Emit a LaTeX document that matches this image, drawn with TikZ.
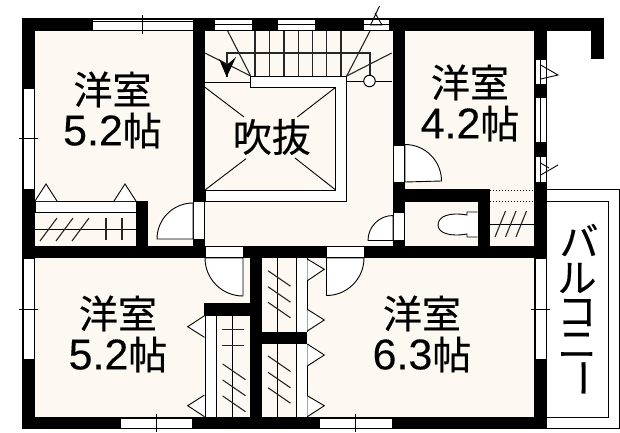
\documentclass[tikz,border=0pt]{standalone}
\usepackage{fontspec}
\setmainfont[FakeBold=0.35]{Noto Sans CJK JP}
\newfontfamily\digits[FakeBold=0.2]{Liberation Sans}
\newcommand{\dg}[1]{{\digits\fontsize{43}{41}\selectfont #1}}
\tikzset{
  wall/.style={fill=black,draw=none},
  win/.style={fill=white,draw=black,line width=0.8pt},
  thin/.style={draw=black,line width=0.9pt},
  hang/.style={draw=black!85,line width=1.1pt},
  doorarc/.style={fill=white,draw=black,line width=0.9pt},
  label/.style={font=\fontsize{39}{41}\selectfont,align=center,inner sep=0pt,text=black},
  kata/.style={font=\fontsize{39}{39}\selectfont,inner sep=0pt,text=black},
}
\definecolor{cream}{HTML}{FDF8F1}
\begin{document}
\begin{tikzpicture}[x=1pt,y=-1pt]
\path[use as bounding box,fill=white] (0,0) rectangle (620,432);
% balcony
\draw[thin] (547,189) -- (619.5,189) -- (619.5,428.5) -- (547,428.5);
\draw[thin] (547,201) -- (608.5,201) -- (608.5,417) -- (547,417);
% floor
\fill[cream] (22,18) rectangle (547,429);
% white openings band in hall
\fill[white,draw=black,line width=.9pt] (250.7,76) -- (346.7,76) -- (346.7,201.3) -- (205,201.3) -- (205,190) -- (335.7,190) -- (335.7,87.3) -- (250.7,87.3) -- cycle;
% void
\draw[thin] (205,82.3) -- (250.7,82.3);
\draw[thin] (205,87.3) -- (244,117);
\draw[thin] (335.7,87.3) -- (297.3,117);
\draw[thin] (205,190) -- (246,158.7);
\draw[thin] (335.7,190) -- (295,158);
% stairs
\foreach \x in {255,269.3,284,298.3,312.7,326.7,341} \draw[hang] (\x,31) -- (\x,76);
\draw[hang] (227,77) -- (227,53) -- (370,53) -- (370,75);
\draw[hang] (250.7,76) -- (227.7,31);
\draw[hang] (250.7,76) -- (205,53);
\draw[hang] (346.7,76) -- (370,31);
\draw[hang] (346.7,76) -- (391.7,53);
\draw[thin] (346.7,81) -- (392,81);
\node[circle,draw=black,fill=white,line width=1pt,minimum size=11.5pt,inner sep=0pt] (post) at (369.5,81) {};
\fill[black] (226.7,77) -- (219,59) -- (226.7,65) -- (236,57) -- cycle;
% walls
\fill[wall] (22,18) rectangle (604,31);
\fill[wall] (591,18) rectangle (604,59);
\fill[wall] (22,18) rectangle (35,429);
\fill[wall] (22,417) rectangle (547,429);
\fill[wall] (534,18) rectangle (547,429);
\fill[wall] (22,246) rectangle (547,258);
\fill[wall] (193,18) rectangle (205,258);
\fill[wall] (393,18) rectangle (405,258);
\fill[wall] (393,189) rectangle (490,202);
\fill[wall] (477.7,189) rectangle (490,258);
\fill[wall] (136,201) rectangle (148,258);
\fill[wall] (250,246) rectangle (262,429);
\fill[wall] (204,303) rectangle (262,316);
\fill[wall] (250,332) rectangle (307,344);
% windows, left
\draw[win] (23.5,88) rectangle (34,189);
\draw[thin] (19,138.3) -- (38,138.3);
\draw[win] (23.5,258) rectangle (34,359);
\draw[thin] (19,309) -- (38,309);
% top
\draw[win] (92,19.5) rectangle (193,30);
\draw[thin] (92,21) -- (193,21);
\draw[thin] (142.3,15) -- (142.3,34);
\foreach \a/\b in {214/252,277/315,363/389}{
  \draw[win] (\a,19.5) rectangle (\b,30);
  \draw[draw=black,line width=1.3pt] (\a,24.7) -- (\b,24.7);
}
\draw[thin] (379.5,6) -- (370.5,25) -- (382,25) -- (375,13);
% bottom
\draw[win] (120,418) rectangle (192.7,428.5);
\draw[thin] (156.7,414) -- (156.7,432);
\draw[win] (319.3,418) rectangle (392,428.5);
\draw[thin] (355.7,414) -- (355.7,432);
% right windows
\draw[win] (535,59) rectangle (546,84);
\draw[win] (535,97) rectangle (546,142);
\draw[win] (535,156) rectangle (546,182);
\draw[draw=black,line width=1.2pt] (540.7,59) -- (540.7,84) (540.7,97) -- (540.7,142) (540.7,156) -- (540.7,182);
\draw[thin] (540.7,65) -- (558,75) -- (540.7,79);
\draw[thin] (540.7,163) -- (549,168) (540.7,175) -- (558,165);
\draw[win] (535,258) rectangle (546,359);
\draw[thin] (531,309) -- (550,309);
% door openings
\draw[win] (193.5,201) rectangle (204.5,239);
\draw[win] (393.5,145) rectangle (404.5,182);
\draw[win] (393.5,212) rectangle (404.5,240);
\draw[win] (205,246.5) rectangle (243,257.5);
\draw[win] (326.5,246.5) rectangle (364,257.5);
% door leaves
\draw[doorarc] (193,239) -- (157,239) arc[start angle=180,end angle=270,radius=36] -- cycle;
\draw[doorarc] (405,182) -- (405,144.5) arc[start angle=270,end angle=360,radius=36.5] -- cycle;
\draw[doorarc] (393,240.5) -- (368,240.5) arc[start angle=180,end angle=270,radius=25] -- cycle;
\draw[doorarc] (243,258) -- (205,258) arc[start angle=180,end angle=90,radius=38] -- cycle;
\draw[doorarc] (326.5,258) -- (364,258) arc[start angle=0,end angle=90,radius=37.5] -- cycle;
% closet room 1
\draw[win] (35,201) rectangle (136,212);
\draw[thin] (35,229) -- (136,229);
\foreach \a in {40,56,72} \draw[hang] (\a,241) -- (\a+17,218);
\foreach \a in {106,122} \draw[hang] (\a,218) -- (\a,240);
\draw[doorarc] (35,201) -- (46,184) -- (57,201);
\draw[doorarc] (114,201) -- (125,184) -- (136,201);
% closet by toilet
\draw[black,line width=1pt,dotted] (490,190) -- (534,190) (490,201) -- (534,201);
\draw[thin] (490,224) -- (534,224);
\foreach \a in {495,505.5,516} \draw[hang] (\a,237) -- (\a+10.5,211);
% toilet
\draw[doorarc] (477.7,212) -- (467,212) -- (467,215) .. controls (450,212) and (438,216) .. (438,225) .. controls (438,233) and (450,237) .. (467,234) -- (467,237) -- (477.7,237);
% lower closets
\foreach \t/\b in {258/332,344/417}{
  \fill[white] (296,\t) rectangle (307,\b);
  \draw[thin] (277.7,\t) -- (277.7,\b) (296,\t) -- (296,\b) (307,\t) -- (307,\b);
}
\foreach \y in {270.7,286.7,302.3,356,372.3,387.7} \draw[hang] (268,\y) -- (290.5,\y+15.5);
\foreach \a/\b/\c in {259/269.3/280.7,309.3/320/331,344/355/366,395.7/405.7/416.7}
  \draw[doorarc] (307.3,\a) -- (324.3,\b) -- (307.3,\c);
\fill[white] (205,316) rectangle (216,417);
\draw[thin] (205,316) -- (205,417) (216,316) -- (216,417) (232.7,316) -- (232.7,417);
\draw[hang] (221.7,329.3) -- (244.3,329.3) (221.7,345.7) -- (244.3,345.7);
\foreach \y in {364,380,396} \draw[hang] (222.7,\y) -- (245.5,\y+15.7);
\foreach \a/\b/\c in {315.7/326.7/337.3,395/405.7/416.7}
  \draw[doorarc] (204.5,\a) -- (187.7,\b) -- (204.5,\c);
% labels
\node[label] (r1) at (112.5,110) {洋室\\\dg{5.2}帖};
\node[label] (r2) at (470,103) {洋室\\\dg{4.2}帖};
\node[label] (r3) at (118,334) {洋室\\\dg{5.2}帖};
\node[label] (r4) at (422,334) {洋室\\\dg{6.3}帖};
\node[label] (void) at (271.7,137) {吹抜};
\node[kata] (k1) at (579,240) {バ};
\node[kata] (k2) at (577,278) {ル};
\node[kata] (k3) at (577,312.5) {コ};
\node[kata] (k4) at (577,345.5) {ニ};
\node[kata,rotate=-90] (k5) at (577,378) {ー};
\end{tikzpicture}
\end{document}
